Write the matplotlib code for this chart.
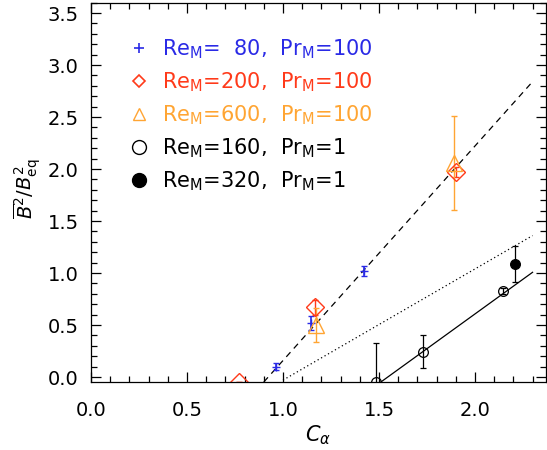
import matplotlib
matplotlib.use("Agg")
import matplotlib.pyplot as plt
from matplotlib.lines import Line2D
from matplotlib.ticker import MultipleLocator, FormatStrFormatter

plt.rcParams['font.family'] = ['DejaVu Sans']
plt.rcParams['mathtext.fontset'] = 'dejavusans'

# ---- data ----
blue_x = [0.965, 1.147, 1.421]
blue_y = [0.10, 0.52, 1.02]
blue_err = [0.03, 0.07, 0.05]

red_x = [0.771, 1.165, 1.902]
red_y = [-0.045, 0.67, 1.97]
red_err = [0.0, 0.07, 0.05]

orange_x = [1.173, 1.893]
orange_y = [0.50, 2.06]
orange_err = [0.16, 0.45]

open_x = [1.486, 1.73, 2.148]
open_y = [-0.045, 0.243, 0.83]
open_err = [0.375, 0.16, 0.03]

filled_x = [2.21]
filled_y = [1.087]
filled_err = [0.175]

dashed_x = [0.90, 2.29]
dashed_y = [-0.048, 2.82]
dotted_x = [1.0, 2.30]
dotted_y = [-0.03, 1.36]
solid_x = [1.51, 2.30]
solid_y = [-0.048, 1.007]

labels = [r'Re$_\mathrm{M}$=  80,  Pr$_\mathrm{M}$=100',
          r'Re$_\mathrm{M}$=200,  Pr$_\mathrm{M}$=100',
          r'Re$_\mathrm{M}$=600,  Pr$_\mathrm{M}$=100',
          r'Re$_\mathrm{M}$=160,  Pr$_\mathrm{M}$=1',
          r'Re$_\mathrm{M}$=320,  Pr$_\mathrm{M}$=1']

BLUE = '#2a2ae6'
RED = '#ff3a1a'
ORANGE = '#ffa533'

fig = plt.figure(figsize=(5.47, 4.50), dpi=100)
ax = fig.add_axes([91/547, 1-382/450, 455/547, 379.3/450])

ax.plot(dashed_x, dashed_y, color='black', lw=0.9, dashes=(5, 4))
ax.plot(dotted_x, dotted_y, color='black', lw=0.9, dashes=(1, 2.2))
ax.plot(solid_x, solid_y, color='black', lw=0.9)

ax.errorbar(blue_x, blue_y, yerr=blue_err, fmt='+', color=BLUE, ms=6,
            mew=1.0, elinewidth=1.2, capsize=2.2, capthick=1.2)
ax.errorbar(red_x, red_y, yerr=red_err, fmt='D', color=RED, mfc='none', ms=9,
            mew=1.0, elinewidth=1.0, capsize=2.2)
ax.errorbar(orange_x, orange_y, yerr=orange_err, fmt='^', color=ORANGE, mfc='none',
            ms=11, mew=1.0, elinewidth=1.0, capsize=2.2)
ax.errorbar(open_x, open_y, yerr=open_err, fmt='o', color='black', mfc='none',
            ms=7, mew=0.9, elinewidth=0.9, capsize=2.5)
ax.errorbar(filled_x, filled_y, yerr=filled_err, fmt='o', color='black',
            ms=7, mew=0.9, elinewidth=0.9, capsize=2.5)

ax.set_xlim(0, 2.37)
ax.set_ylim(-0.048, 3.6)
ax.xaxis.set_major_locator(MultipleLocator(0.5))
ax.xaxis.set_minor_locator(MultipleLocator(0.1))
ax.yaxis.set_major_locator(MultipleLocator(0.5))
ax.yaxis.set_minor_locator(MultipleLocator(0.1))
ax.tick_params(which='both', direction='in', top=True, right=True, width=0.9)
ax.tick_params(which='major', length=7, labelsize=14)
ax.tick_params(axis='x', which='major', pad=14)
ax.tick_params(axis='y', which='major', pad=9)
ax.tick_params(which='minor', length=4)
ax.xaxis.set_major_formatter(FormatStrFormatter('%.1f'))
ax.yaxis.set_major_formatter(FormatStrFormatter('%.1f'))
for s in ax.spines.values():
    s.set_linewidth(0.9)

ax.set_xlabel(r'$C_\alpha$', fontsize=15)
ax.xaxis.set_label_coords(0.5, -0.11)
ax.set_ylabel(r'$\overline{B}^2/B^2_\mathrm{eq}$', fontsize=14)
ax.yaxis.set_label_coords(-0.105, 0.51)

handles = [
    Line2D([], [], ls='none', marker='+', color=BLUE, ms=7, mew=1.2),
    Line2D([], [], ls='none', marker='D', color=RED, mfc='none', ms=6, mew=1.2),
    Line2D([], [], ls='none', marker='^', color=ORANGE, mfc='none', ms=8, mew=1.0),
    Line2D([], [], ls='none', marker='o', color='black', mfc='none', ms=10, mew=1.0),
    Line2D([], [], ls='none', marker='o', color='black', ms=10),
]
leg = ax.legend(handles, labels, loc='upper left', bbox_to_anchor=(0.06, 0.935),
                frameon=False, fontsize=15, labelcolor=[BLUE, RED, ORANGE, 'black', 'black'],
                handlelength=1.0, handletextpad=0.6, labelspacing=0.45, borderpad=0)

fig.savefig('out.png', dpi=100)
